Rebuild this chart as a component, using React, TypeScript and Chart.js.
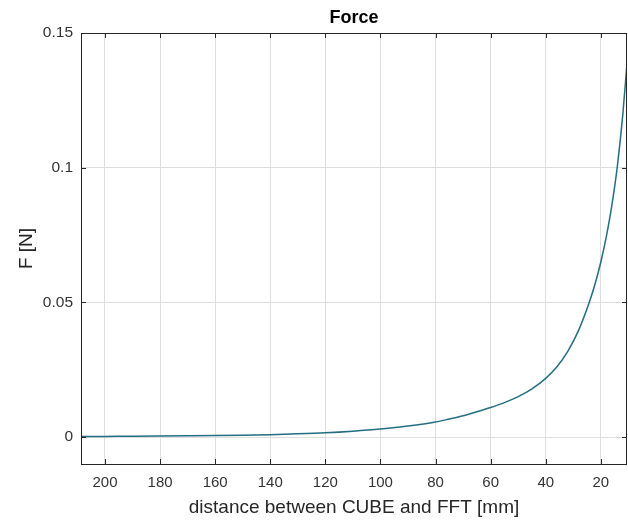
import React, { useEffect, useRef } from "react";
import { Chart, registerables } from "chart.js";

Chart.register(...registerables);

const distances = [208.7, 200, 190, 180, 170, 160, 150, 140, 130, 120, 110, 100, 90, 80, 75, 70, 65, 60, 55, 50, 45, 40, 36, 32, 28, 24, 22, 20, 18, 16, 14, 12, 10.6];
const forces = [0.0002, 0.00025, 0.0003, 0.00037, 0.00045, 0.00055, 0.0007, 0.0009, 0.0012, 0.0016, 0.0022, 0.003, 0.0041, 0.0056, 0.0067, 0.0079, 0.0094, 0.011, 0.0128, 0.015, 0.0179, 0.0218, 0.026, 0.0318, 0.0398, 0.0506, 0.0572, 0.065, 0.0744, 0.086, 0.1006, 0.12, 0.1375];
const xTicks = [20, 40, 60, 80, 100, 120, 140, 160, 180, 200];
const yTicks = [0, 0.05, 0.1, 0.15];
const yTickLabels = ["0", "0.05", "0.1", "0.15"];

const titleText = "Force";
const xLabel = "distance between CUBE and FFT [mm]";
const yLabel = "F [N]";

const FONT = "'Liberation Sans', Arial, sans-serif";

const boxPlugin = {
  id: "matlabBox",
  afterDatasetsDraw(chart: any) {
    const { ctx, chartArea } = chart;
    const { left, right, top, bottom } = chartArea;
    const xs = chart.scales.x;
    const ys = chart.scales.y;
    const tl = 5;
    ctx.save();
    ctx.strokeStyle = "#262626";
    ctx.lineWidth = 1;
    ctx.beginPath();
    xs.ticks.forEach((t: any) => {
      const px = Math.round(xs.getPixelForValue(t.value)) + 0.5;
      ctx.moveTo(px, bottom);
      ctx.lineTo(px, bottom - tl);
      ctx.moveTo(px, top);
      ctx.lineTo(px, top + tl);
    });
    ys.ticks.forEach((t: any) => {
      const py = Math.round(ys.getPixelForValue(t.value)) + 0.5;
      ctx.moveTo(left, py);
      ctx.lineTo(left + tl, py);
      ctx.moveTo(right, py);
      ctx.lineTo(right - tl, py);
    });
    ctx.stroke();
    ctx.strokeRect(Math.round(left) + 0.5, Math.round(top) + 0.5, Math.round(right - left) - 1, Math.round(bottom - top));
    ctx.fillStyle = "#000";
    ctx.font = "bold 18px " + FONT;
    ctx.textAlign = "center";
    ctx.textBaseline = "middle";
    ctx.fillText(titleText, (left + right) / 2, 18);
    ctx.restore();
  },
};

export default function App() {
  const ref = useRef<HTMLCanvasElement>(null);
  useEffect(() => {
    if (!ref.current) return;
    const chart = new Chart(ref.current, {
      type: "line",
      data: {
        datasets: [
          {
            data: distances.map((d, i) => ({ x: d, y: forces[i] })),
            borderColor: "#236e80",
            borderWidth: 1.5,
            pointRadius: 0,
            fill: false,
            cubicInterpolationMode: "monotone",
          },
        ],
      },
      options: {
        animation: false,
        responsive: false,
        maintainAspectRatio: false,
        layout: { padding: { top: 33, right: 1, left: 0, bottom: 0 } },
        plugins: { legend: { display: false }, tooltip: { enabled: false }, title: { display: false } },
        scales: {
          x: {
            type: "linear",
            reverse: true,
            min: 10.5,
            max: 208.7,
            afterBuildTicks: (s: any) => {
              s.ticks = xTicks.map((v) => ({ value: v }));
            },
            afterFit: (s: any) => {
              s.height = 56;
            },
            grid: { color: "#dedede", drawTicks: false, lineWidth: 1 },
            border: { display: false },
            ticks: {
              color: "#333333",
              font: { family: FONT, size: 15 },
              padding: 10,
              maxRotation: 0,
              autoSkip: false,
              callback: (v: any) => String(v),
            },
            title: {
              display: true,
              text: xLabel,
              color: "#262626",
              font: { family: FONT, size: 19, lineHeight: 1.2 },
              padding: { top: 0, bottom: 1 },
            },
          },
          y: {
            type: "linear",
            min: -0.01,
            max: 0.15,
            afterBuildTicks: (s: any) => {
              s.ticks = yTicks.map((v) => ({ value: v }));
            },
            afterFit: (s: any) => {
              s.width = 81;
            },
            grid: { color: "#dedede", drawTicks: false, lineWidth: 1 },
            border: { display: false },
            ticks: {
              color: "#333333",
              font: { family: FONT, size: 15.5 },
              padding: 8,
              autoSkip: false,
              callback: (v: any) => {
                const i = yTicks.indexOf(v);
                return i >= 0 ? yTickLabels[i] : "";
              },
            },
            title: {
              display: true,
              text: yLabel,
              color: "#262626",
              font: { family: FONT, size: 19, lineHeight: 1.2 },
              padding: { top: 15, bottom: 0 },
            },
          },
        },
      },
      plugins: [boxPlugin],
    });
    return () => chart.destroy();
  }, []);
  return (
    <div style={{ position: "fixed", left: 0, top: 0, width: 628, height: 520, background: "#fff" }}>
      <canvas ref={ref} width={628} height={520} style={{ display: "block", width: 628, height: 520 }} />
    </div>
  );
}
